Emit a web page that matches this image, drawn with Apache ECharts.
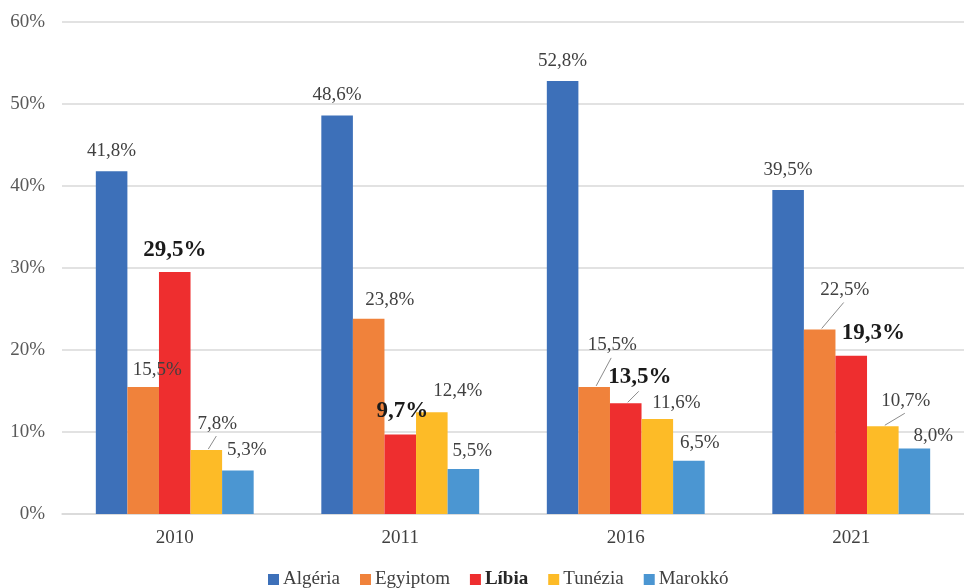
<!DOCTYPE html>
<html>
<head>
<meta charset="utf-8">
<script src="https://cdn.jsdelivr.net/npm/echarts@6/dist/echarts.min.js"></script>
<style>
  html, body { margin: 0; padding: 0; background: #fff; }
  #chart { width: 964px; height: 588px; }
</style>
</head>
<body>
<div id="chart"></div>
<script>
// adatok
const years = ['2010', '2011', '2016', '2021'];
const algeria = [41.8, 48.6, 52.8, 39.5];
const egyiptom = [15.5, 23.8, 15.5, 22.5];
const libia = [29.5, 9.7, 13.5, 19.3];
const tunezia = [7.8, 12.4, 11.6, 10.7];
const marokko = [5.3, 5.5, 6.5, 8.0];
const yTicks = [0, 10, 20, 30, 40, 50, 60];

// címke eltolások (dx, dy) és vezetővonalak
const nudge = [
  [[0, 0], [0, 0], [0, 0], [0, 0]],
  [[14, 4], [21, 2], [18, -21], [25, -19]],
  [[0, 0], [2, -1], [14, -4], [22, 0]],
  [[11, -6], [26, -1], [19, 5], [23, -5]],
  [[9, 0], [9, 3], [11, 3], [19, 8]]
];
const leader = [
  [false, false, false, false],
  [false, false, true, true],
  [false, false, true, false],
  [true, false, false, true],
  [false, false, false, false]
];

const chart = echarts.init(document.getElementById('chart'));
const serif = '"Liberation Serif", "Times New Roman", serif';
const fmt = v => v.toFixed(1).replace('.', ',') + '%';
const allValues = [algeria, egyiptom, libia, tunezia, marokko];
const LABEL_DIST = 11;
const GAP = 0.3;

function makeSeries(name, values, color, idx, bold) {
  return {
    name: name,
    type: 'bar',
    barGap: '0%',
    barCategoryGap: (GAP * 100) + '%',
    itemStyle: { color: color },
    data: values,
    label: {
      show: true,
      position: 'top',
      distance: LABEL_DIST,
      fontFamily: serif,
      fontSize: bold ? 23 : 19,
      fontWeight: bold ? 'bold' : 'normal',
      color: bold ? '#1a1a1a' : '#404040',
      formatter: p => fmt(p.value)
    },
    labelLayout: p => {
      const d = nudge[idx][p.dataIndex];
      return { dx: d[0], dy: d[1] };
    }
  };
}

// vezetővonalak: [kategória, érték, sorozat]
const leaderData = [];
leader.forEach((row, s) => row.forEach((on, c) => {
  if (on) leaderData.push([c, allValues[s][c], s]);
}));

const leaderSeries = {
  type: 'custom',
  name: 'leaders',
  silent: true,
  z: 5,
  data: leaderData,
  renderItem: (params, api) => {
    const c = api.value(0), v = api.value(1), s = api.value(2);
    const top = api.coord([c, v]);
    const band = api.size([1, 0])[0];
    const bw = band * (1 - GAP) / 5;
    const cx = top[0] + (s - 2) * bw;
    const d = nudge[s][c];
    const x2 = cx + d[0] - 1;
    const y2 = top[1] - LABEL_DIST + d[1] + 3;
    return {
      type: 'line',
      shape: { x1: cx + 2, y1: top[1] - 1, x2: x2, y2: y2 },
      style: { stroke: '#8c8c8c', lineWidth: 1 }
    };
  }
};

const option = {
  animation: false,
  backgroundColor: '#fff',
  grid: { left: 62, right: 0, top: 22, bottom: 74 },
  legend: {
    left: 263,
    bottom: -6,
    icon: 'rect',
    itemWidth: 11,
    itemHeight: 11,
    itemGap: 20,
    textStyle: { fontFamily: serif, fontSize: 19, color: '#404040', padding: [0, 0, 0, -1] },
    data: [
      { name: 'Algéria' },
      { name: 'Egyiptom' },
      { name: 'Líbia', textStyle: { fontWeight: 'bold', color: '#262626' } },
      { name: 'Tunézia' },
      { name: 'Marokkó' }
    ]
  },
  xAxis: {
    type: 'category',
    data: years,
    axisTick: { show: false },
    axisLine: { lineStyle: { color: '#d9d9d9', width: 1.5 } },
    axisLabel: { fontFamily: serif, fontSize: 19, color: '#404040', margin: 15 }
  },
  yAxis: {
    type: 'value',
    min: yTicks[0],
    max: yTicks[yTicks.length - 1],
    interval: 10,
    axisLabel: { fontFamily: serif, fontSize: 19, color: '#595959', margin: 17, formatter: '{value}%' },
    splitLine: { lineStyle: { color: '#d9d9d9', width: 1.5 } }
  },
  series: [
    makeSeries('Algéria', algeria, '#3d70b9', 0, false),
    makeSeries('Egyiptom', egyiptom, '#f0823b', 1, false),
    makeSeries('Líbia', libia, '#ee2e2f', 2, true),
    makeSeries('Tunézia', tunezia, '#fdbb27', 3, false),
    makeSeries('Marokkó', marokko, '#4b96d2', 4, false),
    leaderSeries
  ]
};

chart.setOption(option);
</script>
</body>
</html>
